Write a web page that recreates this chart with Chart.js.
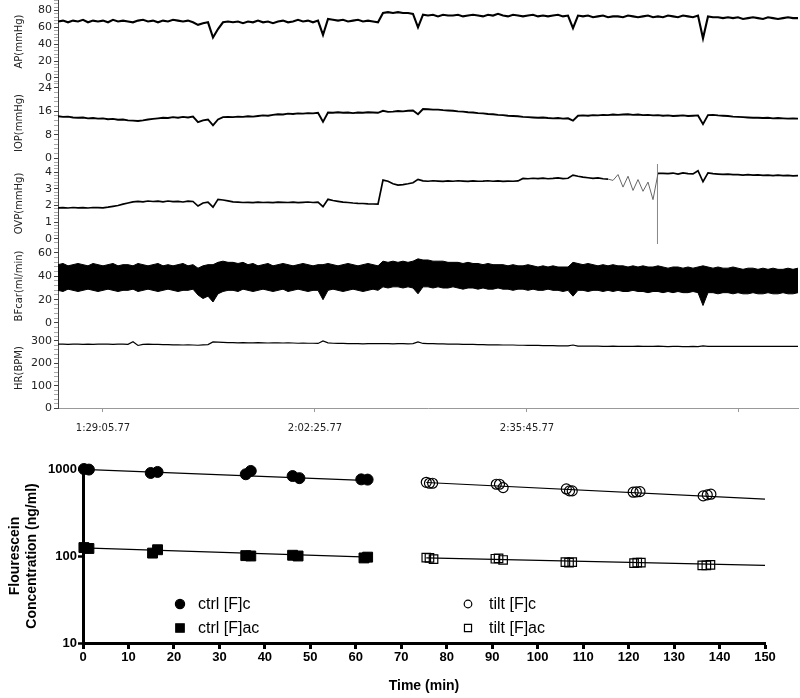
<!DOCTYPE html>
<html>
<head>
<meta charset="utf-8">
<script src="https://cdn.jsdelivr.net/npm/chart.js@4.4.1/dist/chart.umd.min.js"></script>
<style>
  body { margin: 0; background: #fff; }
  #traces { position: absolute; left: 0; top: 0; }
  #decay { position: absolute; left: 0; top: 440px; }
</style>
</head>
<body>
<canvas id="traces" width="800" height="440"></canvas>
<canvas id="decay" width="800" height="258"></canvas>
<script>
// ---- recording traces (one sample every TRACE_STEP seconds of clock time) ----
var TRACE_START = 4921.3;
var TRACE_STEP = 47.17;
var timeTicks = ['1:29:05.77', '2:02:25.77', '2:35:45.77', '3:09:05.77'];
var labelledTicks = 3;

var apValues = [
  67,68,66,68,67,69,66,68,67,68, 66,69,67,68,67,66,68,69,67,68, 66,68,67,69,68,67,68,66,
  63,65,66,48,58,66,67,
  66,67,65,67,66,68,66,67,65,67, 68,66,67,69,67,68,66,68,
  51,
  70,69,68,69,67,68,69,67,68,67,66,
  77,78,77,78,77,77,76,
  60,
  75,74,75,73,75,74,74,75,73,74, 75,74,73,75,74,76,74,73,75,74, 73,74,75,73,74,73,74,75,73,74,
  59,
  74,73,74,72,73,74,72,73,73,72, 74,73,72,73,74,72,73,72,74,73, 72,74,73,72,74,
  47,
  73,72,72,71,72,71,72,70,71,72, 71,70,72,71,70,71,72,71,71
];
var iopValues = [
  14.3,14.1,14.2,13.9,13.8,13.9,13.6,13.7,13.5,13.6, 13.3,13.4,13.1,13.2,12.9,12.8,12.7,12.9,13.2,13.4, 13.6,13.8,13.7,14.0,13.8,14.1,13.9,14.2,
  12.3,12.9,13.2,11.2,13.2,14.0,14.1,
  14.0,14.2,14.1,14.3,14.2,14.4,14.6,14.5,14.8,15.0, 14.9,15.2,15.1,15.3,15.2,15.4,15.3,15.5,
  12.4,
  15.6,15.5,15.7,15.5,15.6,15.4,15.6,15.5,15.7,15.6,15.5,
  16.2,15.8,15.9,16.1,16.0,16.2,16.3,
  15.0,
  16.8,16.7,16.6,16.6,16.4,16.3,16.2,16.0,15.9,15.7, 15.6,15.4,15.3,15.1,15.0,14.8,14.7,14.5,14.4,14.3, 14.1,14.0,13.9,13.8,13.9,13.7,13.6,13.7,13.5,13.6,
  12.8,
  14.5,14.6,14.5,14.7,14.6,14.8,14.7,14.9,14.8,14.9, 15.0,14.8,14.9,14.7,14.8,14.6,14.7,14.5,14.6,14.4, 14.5,14.6,14.4,14.5,14.6,
  11.6,
  14.7,14.8,14.6,14.5,14.4,14.2,14.1,14.0,13.9,13.8, 13.8,13.7,13.8,13.6,13.7,13.6,13.5,13.6,13.5
];
var ovpValues = [
  1.86,1.87,1.85,1.88,1.86,1.87,1.85,1.88,1.87,1.86, 1.90,1.95,2.00,2.08,2.15,2.22,2.25,2.22,2.27,2.24, 2.26,2.22,2.27,2.23,2.25,2.21,2.26,2.24,
  1.97,2.15,2.20,1.90,2.37,2.33,2.28,
  2.22,2.20,2.18,2.19,2.17,2.20,2.18,2.19,2.17,2.20, 2.19,2.18,2.20,2.17,2.19,2.21,2.18,2.20,
  1.93,
  2.37,2.30,2.25,2.20,2.18,2.15,2.13,2.12,2.10,2.09,2.08,
  3.52,3.45,3.30,3.22,3.25,3.30,3.36,
  3.56,
  3.47,3.45,3.48,3.46,3.44,3.47,3.45,3.48,3.46,3.44, 3.47,3.45,3.46,3.48,3.45,3.47,3.44,3.46,3.45,3.47,
  3.62,3.60,3.63,3.61,3.64,3.60,3.62,3.65,3.61,3.63,
  3.82,
  3.75,3.70,3.66,3.62,3.65,3.60,3.58,
  3.50,3.85,3.10,3.75,2.90,3.55,2.85,3.40,2.35,
  3.92,
  3.92,3.90,3.94,3.88,3.95,3.91,3.89,4.08,
  3.42,
  3.95,3.90,3.88,3.86,3.87,3.84,3.85,3.82,3.84,3.81, 3.83,3.80,3.82,3.79,3.81,3.78,3.80,3.77,3.79
];
var ovpSpikeAt = 120;          // sample index of the flush artefact
var ovpSpike = [-0.36, 4.48];
var ovpNoisyFrom = 110;
var ovpNoisyTo = 120;

var bfHigh = [
  50,51,49,50,51,50,49,51,50,49, 50,51,49,50,50,49,51,50,49,50, 51,49,50,49,50,51,49,50,
  47,49,50,50,52,53,52,
  52,51,52,50,51,49,50,51,49,50, 51,50,49,50,51,50,49,50,
  50,
  51,50,49,50,51,50,49,50,51,50,49,
  53,52,53,52,53,52,53,
  55,
  54,54,53,53,53,52,52,52,51,52, 51,51,50,51,50,50,50,49,50,49, 49,50,49,48,49,48,49,48,48,48,
  52,
  51,50,51,50,49,50,49,50,49,49, 48,49,48,49,48,48,49,48,47,48, 48,47,48,47,48,
  49,
  48,47,48,47,47,48,47,46,47,47, 46,47,46,47,46,46,47,46,47
];
var bfLow = [
  28,27,29,28,27,28,29,28,27,28, 29,28,27,28,28,29,27,28,29,28, 27,28,29,28,27,28,28,29,
  24,21,23,18,25,27,28,
  28,27,29,28,27,28,29,28,27,28, 29,27,28,29,28,27,28,28,
  20,
  28,29,28,27,28,29,28,27,28,29,28,
  31,30,31,31,30,31,30,
  25,
  31,31,30,31,30,30,31,30,29,30, 30,29,30,29,29,30,29,29,28,29, 29,28,29,28,28,29,28,28,27,28,
  23,
  28,28,27,28,28,27,28,27,28,27, 27,28,27,27,26,27,27,26,27,26, 27,26,26,27,26,
  15,
  26,26,25,26,26,25,26,25,25,26, 25,25,26,25,25,26,25,25,26
];
var hrValues = [
  286,286,285,286,286,285,286,285,286,286, 286,285,286,286,285,297,280,285,286,285, 285,284,284,283,283,282,283,282,
  281,283,284,296,295,294,293,
  293,292,293,292,292,293,292,291,292,292, 291,292,291,290,291,290,290,289,
  300,
  292,290,289,289,288,288,288,287,288,288,288,
  288,288,287,288,288,287,288,
  296,
  289,288,288,287,287,286,286,286,285,285, 285,284,284,283,283,283,282,282,282,281, 281,280,280,280,279,279,279,278,278,278,
  282,
  277,277,277,277,277,276,276,277,276,276, 276,276,277,276,276,276,277,276,275,276, 276,275,275,276,275,
  278,
  276,276,276,276,276,276,276,276,276,276, 276,276,276,276,276,276,276,276,276
];

// ---- fluorescein decay ----
var ctrlTime = [0.2, 1.3, 14.9, 16.4, 35.8, 36.9, 46.1, 47.6, 61.2, 62.6];
var ctrlC = [1000, 985, 900, 925, 870, 950, 830, 785, 760, 755];
var ctrlAcTime = [0.2, 1.3, 15.3, 16.4, 35.8, 36.9, 46.1, 47.3, 61.8, 62.6];
var ctrlAc = [125, 122, 108, 118, 101, 100, 102, 100, 95, 97];
var tiltTime = [75.5, 76.2, 76.9, 90.9, 91.6, 92.4, 106.3, 107.0, 107.6, 121.0, 121.7, 122.5, 136.4, 137.3, 138.1];
var tiltC = [703, 686, 686, 668, 668, 611, 590, 560, 560, 541, 545, 549, 491, 504, 513];
var tiltAcTime = [75.5, 76.2, 77.1, 90.7, 91.4, 92.4, 106.1, 106.9, 107.6, 121.2, 121.9, 122.7, 136.2, 137.1, 138.0];
var tiltAc = [96, 95, 92, 93, 94, 90, 85, 84, 85, 83, 84, 84, 78, 78, 79];
var fitCtrlTime = [0, 63];
var fitCtrlC = [990, 735];
var fitCtrlAc = [124, 97];
var fitTiltTime = [75.5, 150];
var fitTiltC = [700, 450];
var fitTiltAc = [95, 78];
var timeAxisTicks = [0, 10, 20, 30, 40, 50, 60, 70, 80, 90, 100, 110, 120, 130, 140, 150];
var concTicks = [10, 100, 1000];

function toSec(label) {
    var p = label.split(':');
    return (+p[0]) * 3600 + (+p[1]) * 60 + (+p[2]);
}

function series(values) {
    return values.map(function (v, i) {
        return {x: TRACE_START + i * TRACE_STEP, y: v};
    });
}

function pairs(xs, ys) {
    return ys.map(function (v, i) {
        return {x: xs[i], y: v};
    });
}

var traceFont = 'DejaVu Sans, Verdana, sans-serif';

function traceAxis(name, min, max, majors, weight, share) {
    var minorStep = (majors[1] - majors[0]) / 5;
    var lastMajor = majors[majors.length - 1];
    return {
        type: 'linear',
        position: 'left',
        stack: 'traces',
        stackWeight: share,
        weight: weight,
        min: min,
        max: max,
        afterBuildTicks: function (scale) {
            var list = [];
            var kMin = Math.ceil((min - majors[0]) / minorStep - 1e-9);
            var kMax = Math.floor((max - majors[0]) / minorStep + 1e-9);
            for (var k = kMin; k <= kMax; k++) {
                var v = Math.round((majors[0] + k * minorStep) * 1000) / 1000;
                list.push({value: v, main: k % 5 === 0 && v >= majors[0] && v <= lastMajor});
            }
            scale.ticks = list;
        },
        afterFit: function (scale) {
            scale.width = 58;
            scale.paddingTop = 0;
            scale.paddingBottom = 0;
        },
        border: {color: '#444', width: 1},
        grid: {
            drawOnChartArea: false,
            tickLength: 4,
            tickColor: function (ctx) {
                return ctx.tick && ctx.tick.main ? '#444' : '#aaa';
            }
        },
        ticks: {
            autoSkip: false,
            padding: 2,
            color: '#222',
            font: {family: traceFont, size: 11},
            callback: function (value, index, ticks) {
                return ticks[index].main ? String(value) : '';
            }
        },
        title: {
            display: true,
            text: name,
            color: '#222',
            font: {family: traceFont, size: 10},
            padding: {top: 13, bottom: 0}
        }
    };
}

function inNoisy(ctx) {
    return ctx.p0DataIndex >= ovpNoisyFrom && ctx.p1DataIndex <= ovpNoisyTo;
}

var traceLine = {pointRadius: 0, borderColor: '#000', fill: false, tension: 0, borderJoinStyle: 'miter'};

var traces = new Chart(document.getElementById('traces'), {
    type: 'line',
    data: {
        datasets: [
            Object.assign({label: 'AP', data: series(apValues), yAxisID: 'yAP', borderWidth: 2.1}, traceLine),
            Object.assign({label: 'IOP', data: series(iopValues), yAxisID: 'yIOP', borderWidth: 1.9}, traceLine),
            Object.assign({
                label: 'OVP', data: series(ovpValues), yAxisID: 'yOVP', borderWidth: 1.7,
                segment: {
                    borderColor: function (ctx) { return inNoisy(ctx) ? '#666' : '#000'; },
                    borderWidth: function (ctx) { return inNoisy(ctx) ? 1 : 1.7; }
                }
            }, traceLine),
            Object.assign({
                label: 'OVP flush',
                data: ovpSpike.map(function (v) { return {x: TRACE_START + ovpSpikeAt * TRACE_STEP - 5, y: v}; }),
                yAxisID: 'yOVP', borderWidth: 1
            }, traceLine, {borderColor: '#888'}),
            Object.assign({label: 'BFcar low', data: series(bfLow), yAxisID: 'yBF', borderWidth: 1}, traceLine),
            Object.assign({label: 'BFcar high', data: series(bfHigh), yAxisID: 'yBF', borderWidth: 1}, traceLine,
                {fill: '-1', backgroundColor: '#000'}),
            Object.assign({label: 'HR', data: series(hrValues), yAxisID: 'yHR', borderWidth: 1.2}, traceLine)
        ]
    },
    options: {
        responsive: false,
        animation: false,
        devicePixelRatio: 1,
        layout: {padding: {left: 0, right: 2, top: 0, bottom: 0}},
        plugins: {legend: {display: false}, tooltip: {enabled: false}},
        scales: {
            x: {
                type: 'linear',
                min: TRACE_START,
                max: TRACE_START + (apValues.length - 1) * TRACE_STEP,
                afterBuildTicks: function (scale) {
                    scale.ticks = timeTicks.map(function (t, i) {
                        return {value: toSec(t), text: i < labelledTicks ? t : ''};
                    });
                },
                afterFit: function (scale) {
                    scale.height = 32;
                    scale.paddingLeft = 0;
                    scale.paddingRight = 0;
                },
                border: {color: '#999', width: 1},
                grid: {drawOnChartArea: false, tickLength: 4, tickColor: '#999'},
                ticks: {
                    autoSkip: false,
                    maxRotation: 0,
                    padding: 10,
                    color: '#222',
                    font: {family: traceFont, size: 10},
                    callback: function (value, index, ticks) {
                        return ticks[index].text;
                    }
                }
            },
            yAP: traceAxis('AP(mmHg)', -5.93, 92.44, [0, 20, 40, 60, 80], 5, 83),
            yIOP: traceAxis('IOP(mmHg)', -1.71, 25.71, [0, 8, 16, 24], 4, 80),
            yOVP: traceAxis('OVP(mmHg)', -0.30, 4.54, [0, 1, 2, 3, 4], 3, 81),
            yBF: traceAxis('BFcar(ml/min)', -4.29, 67.71, [0, 20, 40, 60], 2, 84),
            yHR: traceAxis('HR(BPM)', 0, 358.2, [0, 100, 200, 300], 1, 80)
        }
    }
});

// ---- bottom panel ----
var boldFont = '"Liberation Sans", Arial, Helvetica, sans-serif';

var legendSpots = [
    {x: 180, y: 164, r: 4.6, gap: 18},
    {x: 180, y: 188, r: 6, gap: 18},
    {x: 468, y: 164, r: 3.8, gap: 21},
    {x: 468, y: 188, r: 5, gap: 21}
];

var insetLegend = {
    id: 'insetLegend',
    afterDraw: function (chart) {
        var ctx = chart.ctx;
        ctx.save();
        ctx.font = '16px ' + boldFont;
        ctx.textBaseline = 'middle';
        ctx.lineWidth = 1.2;
        legendSpots.forEach(function (spot, i) {
            var ds = chart.data.datasets[i];
            ctx.fillStyle = ds.backgroundColor;
            ctx.strokeStyle = '#000';
            Chart.helpers.drawPoint(ctx, {pointStyle: ds.pointStyle, radius: spot.r, borderWidth: 1.2, rotation: 0}, spot.x, spot.y);
            ctx.fillStyle = '#000';
            ctx.fillText(ds.label, spot.x + spot.gap, spot.y + 1);
        });
        ctx.restore();
    }
};

var pointSet = {type: 'scatter', borderColor: '#000', clip: false, showLine: false};
var fitLine = {type: 'line', borderColor: '#000', borderWidth: 1.2, pointRadius: 0, showLine: true, fill: false, clip: false};

var decay = new Chart(document.getElementById('decay'), {
    type: 'scatter',
    data: {
        datasets: [
            Object.assign({label: 'ctrl [F]c', data: pairs(ctrlTime, ctrlC), pointStyle: 'circle', pointRadius: 5.5,
                backgroundColor: '#000', pointBorderWidth: 1}, pointSet),
            Object.assign({label: 'ctrl [F]ac', data: pairs(ctrlAcTime, ctrlAc), pointStyle: 'rect', pointRadius: 7,
                backgroundColor: '#000', pointBorderWidth: 1}, pointSet),
            Object.assign({label: 'tilt [F]c', data: pairs(tiltTime, tiltC), pointStyle: 'circle', pointRadius: 5,
                backgroundColor: 'rgba(0,0,0,0)', pointBorderWidth: 1.2}, pointSet),
            Object.assign({label: 'tilt [F]ac', data: pairs(tiltAcTime, tiltAc), pointStyle: 'rect', pointRadius: 6,
                backgroundColor: 'rgba(0,0,0,0)', pointBorderWidth: 1.2}, pointSet),
            Object.assign({label: 'fit ctrl [F]c', data: pairs(fitCtrlTime, fitCtrlC)}, fitLine),
            Object.assign({label: 'fit ctrl [F]ac', data: pairs(fitCtrlTime, fitCtrlAc)}, fitLine),
            Object.assign({label: 'fit tilt [F]c', data: pairs(fitTiltTime, fitTiltC)}, fitLine),
            Object.assign({label: 'fit tilt [F]ac', data: pairs(fitTiltTime, fitTiltAc)}, fitLine)
        ]
    },
    options: {
        responsive: false,
        animation: false,
        devicePixelRatio: 1,
        layout: {padding: {left: 0, right: 35, top: 29, bottom: 0}},
        plugins: {legend: {display: false}, tooltip: {enabled: false}},
        scales: {
            x: {
                type: 'linear',
                min: 0,
                max: 150,
                afterBuildTicks: function (scale) {
                    scale.ticks = timeAxisTicks.map(function (v) { return {value: v}; });
                },
                afterFit: function (scale) {
                    scale.height = 55;
                    scale.paddingLeft = 0;
                    scale.paddingRight = 0;
                },
                border: {color: '#000', width: 3},
                grid: {drawOnChartArea: false, tickLength: 6, tickWidth: 3, tickColor: '#000'},
                ticks: {
                    autoSkip: false,
                    maxRotation: 0,
                    padding: 1,
                    color: '#000',
                    font: {family: boldFont, size: 13, weight: 'bold'}
                },
                title: {
                    display: true,
                    text: 'Time (min)',
                    color: '#000',
                    font: {family: boldFont, size: 14, weight: 'bold'},
                    padding: {top: 0, bottom: 3}
                }
            },
            y: {
                type: 'logarithmic',
                min: 10,
                max: 1000,
                afterBuildTicks: function (scale) {
                    scale.ticks = concTicks.map(function (v) { return {value: v}; });
                },
                afterFit: function (scale) {
                    scale.width = 83;
                    scale.paddingTop = 0;
                    scale.paddingBottom = 0;
                },
                border: {color: '#000', width: 3},
                grid: {drawOnChartArea: false, tickLength: 5, tickWidth: 2.5, tickColor: '#000'},
                ticks: {
                    autoSkip: false,
                    padding: 1,
                    color: '#000',
                    font: {family: boldFont, size: 13, weight: 'bold'},
                    callback: function (value) {
                        return String(value);
                    }
                },
                title: {
                    display: true,
                    text: ['Flourescein', 'Concentration (ng/ml)'],
                    color: '#000',
                    font: {family: boldFont, size: 14, weight: 'bold'},
                    padding: {top: 7, bottom: 0}
                }
            }
        }
    },
    plugins: [insetLegend]
});
</script>
</body>
</html>
